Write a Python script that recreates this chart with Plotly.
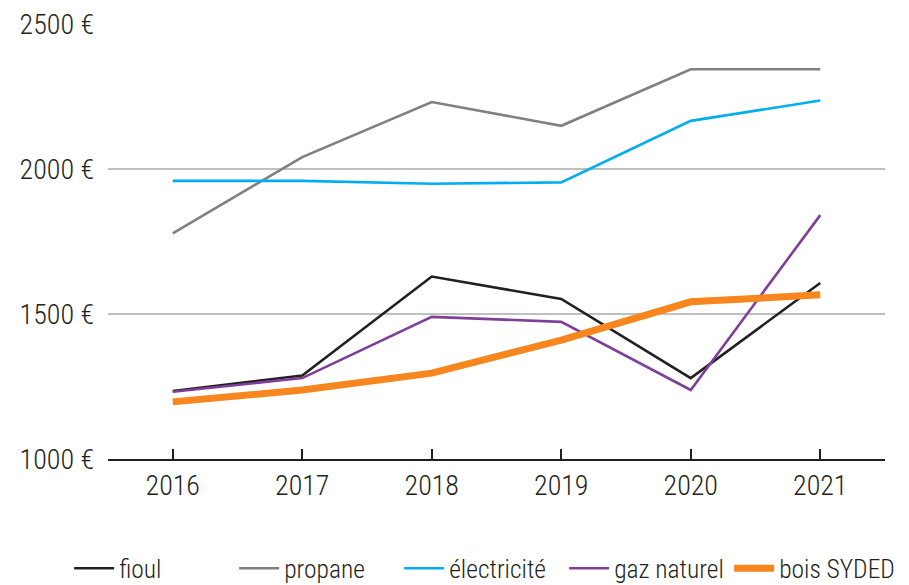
import plotly.graph_objects as go

years = [2016, 2017, 2018, 2019, 2020, 2021]

fioul = [1234, 1288, 1629, 1552, 1279, 1607]
propane = [1778, 2041, 2231, 2149, 2344, 2344]
electricite = [1959, 1959, 1949, 1954, 2166, 2236]
gaz_naturel = [1232, 1279, 1490, 1473, 1238, 1841]
bois_syded = [1197, 1238, 1296, 1410, 1542, 1566]

y_ticks = [1000, 1500, 2000, 2500]
y_labels = [f"{v} €" for v in y_ticks]

series = [
    ("fioul", fioul, "#231f20", 2.6),
    ("propane", propane, "#808080", 2.6),
    ("électricité", electricite, "#00aeef", 2.6),
    ("gaz naturel", gaz_naturel, "#7f3f98", 2.6),
    ("bois SYDED", bois_syded, "#f7861e", 7),
]

FONT = "Roboto Condensed, Liberation Sans Narrow, Arial Narrow, sans-serif"
TEXT = "#231f20"

fig = go.Figure()
for name, vals, color, width in series:
    fig.add_trace(go.Scatter(
        x=years, y=vals, name=name, mode="lines",
        line=dict(color=color, width=width),
    ))

fig.update_layout(
    width=909, height=585,
    margin=dict(l=108, r=24, t=24, b=126, autoexpand=False),
    paper_bgcolor="white", plot_bgcolor="white",
    font=dict(family=FONT, size=28, color=TEXT, weight=300),
    showlegend=True,
    legend=dict(
        orientation="h", x=-0.05, xanchor="left", y=-0.252, yanchor="middle",
        entrywidth=110, entrywidthmode="pixels", itemwidth=40,
        font=dict(family=FONT, size=25.5, color=TEXT, weight=300),
        traceorder="normal",
    ),
    xaxis=dict(
        range=[2015.5, 2021.5], tickvals=years, ticktext=[str(y) for y in years],
        showgrid=False, zeroline=False,
        showline=True, linecolor=TEXT, linewidth=2,
        ticks="inside", ticklen=10, tickwidth=1.5, tickcolor=TEXT,
        ticklabelstandoff=0,
    ),
    yaxis=dict(
        range=[1000, 2500], tickvals=y_ticks, ticktext=y_labels,
        showgrid=True, gridcolor="#bfbfbf", gridwidth=1.5,
        zeroline=False, showline=False, ticks="",
        ticklabelstandoff=13,
    ),
)

fig.write_html("out.html")
